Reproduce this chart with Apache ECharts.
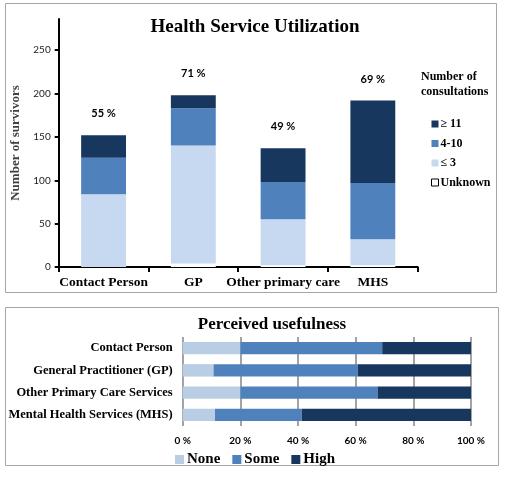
<!DOCTYPE html>
<html>
<head>
<meta charset="utf-8">
<script src="https://cdn.jsdelivr.net/npm/echarts@6/dist/echarts.min.js"></script>
<style>
html,body{margin:0;padding:0;background:#fff;}
#c{width:527px;height:478px;}
</style>
</head>
<body>
<div id="c"></div>
<script>
// ---- Top chart: Health Service Utilization ----
const services = ['Contact Person', 'GP', 'Other primary care', 'MHS'];
const unknownCounts = [0, 4, 2, 2];
const low3 = [84, 136, 53, 30];        // ≤ 3
const mid4to10 = [42, 43, 43, 65];     // 4-10
const high11 = [26, 15, 39, 95];       // ≥ 11
const pctLabels = ['55 %', '71 %', '49 %', '69 %'];
const yTicks = [0, 50, 100, 150, 200, 250];

// ---- Bottom chart: Perceived usefulness ----
const usefulCats = ['Contact Person', 'General Practitioner (GP)', 'Other Primary Care Services', 'Mental Health Services (MHS)'];
const usefulNone = [20, 10.7, 20, 11.2];
const usefulSome = [49.2, 50, 47.6, 30.1];
const usefulHigh = [30.8, 39.3, 32.4, 58.7];
const pctTicks = [0, 20, 40, 60, 80, 100];

const serif = '"Liberation Serif", "Times New Roman", serif';
const sans = 'Lato, "Open Sans", sans-serif';
const cLight = '#c6d9f1', cMid = '#4f81bd', cDark = '#17375e', cNone = '#b9cde5';

const chart = echarts.init(document.getElementById('c'), null, {renderer: 'canvas'});
chart.setOption({
  animation: false,
  backgroundColor: '#fff',
  graphic: [
    {type: 'rect', shape: {x: 5.5, y: 3.5, width: 491, height: 289}, style: {fill: 'none', stroke: '#a6a6a6', lineWidth: 1}},
    {type: 'rect', shape: {x: 5.5, y: 307.5, width: 493, height: 158}, style: {fill: 'none', stroke: '#a6a6a6', lineWidth: 1}}
  ],
  title: [
    {text: 'Health Service Utilization', left: 250, top: 13, textAlign: 'center',
     textStyle: {fontFamily: serif, fontWeight: 'bold', fontSize: 19, color: '#000'}},
    {text: 'Number of\nconsultations', left: 416, top: 64,
     textStyle: {fontFamily: serif, fontWeight: 'bold', fontSize: 12, color: '#000', lineHeight: 15}},
    {text: 'Perceived usefulness', left: 267, top: 311, textAlign: 'center',
     textStyle: {fontFamily: serif, fontWeight: 'bold', fontSize: 17, color: '#000'}}
  ],
  legend: [
    {orient: 'vertical', left: 426, top: 112, itemWidth: 7, itemHeight: 7, itemGap: 5.5, icon: 'rect',
     textStyle: {fontFamily: serif, fontWeight: 'bold', fontSize: 12, color: '#000', lineHeight: 14, padding: [0,0,0,-3]},
     data: [
       {name: '≥ 11'}, {name: '4-10'}, {name: '≤ 3'},
       {name: 'Unknown', itemStyle: {color: '#fff', borderColor: '#000', borderWidth: 1}}
     ]},
    {orient: 'horizontal', left: 170, top: 447, itemWidth: 9, itemHeight: 9, itemGap: 12, icon: 'rect',
     textStyle: {fontFamily: serif, fontWeight: 'bold', fontSize: 15, color: '#000', padding: [0,0,0,-2]},
     data: ['None', 'Some', 'High']}
  ],
  grid: [
    {left: 58.7, right: 109.3, top: 19, bottom: 211},
    {left: 182.7, right: 56, top: 337, bottom: 52}
  ],
  xAxis: [
    {type: 'category', gridIndex: 0, data: services,
     axisLine: {lineStyle: {color: '#000', width: 2}},
     axisTick: {show: true, length: 5, lineStyle: {color: '#000', width: 2}},
     axisLabel: {fontFamily: serif, fontWeight: 'bold', fontSize: 13.5, color: '#000', margin: 9, interval: 0}},
    {type: 'value', gridIndex: 1, min: 0, max: 100, interval: 20,
     axisLine: {show: false}, axisTick: {show: false},
     splitLine: {lineStyle: {color: '#868686', width: 1.5}},
     axisLabel: {fontFamily: sans, fontWeight: 'bold', fontSize: 10, color: '#000', margin: 10,
                 customValues: pctTicks, formatter: v => v + ' %'}}
  ],
  yAxis: [
    {type: 'value', gridIndex: 0, min: 0, max: 286, interval: 50,
     name: 'Number of survivors', nameLocation: 'middle', nameGap: 37,
     nameTextStyle: {fontFamily: serif, fontWeight: 'bold', fontSize: 13, color: '#404040'},
     axisLine: {show: true, lineStyle: {color: '#000', width: 2}},
     axisTick: {show: true, length: 4, lineStyle: {color: '#000', width: 2}, customValues: yTicks},
     axisLabel: {fontFamily: sans, fontSize: 10, color: '#222', margin: 8, customValues: yTicks},
     splitLine: {show: false}},
    {type: 'category', gridIndex: 1, data: usefulCats, inverse: true,
     axisLine: {show: false}, axisTick: {show: false},
     axisLabel: {fontFamily: serif, fontWeight: 'bold', fontSize: 12.5, color: '#000', margin: 10}}
  ],
  series: [
    {name: 'Unknown', type: 'bar', stack: 'u', xAxisIndex: 0, yAxisIndex: 0, barWidth: '50%',
     data: unknownCounts, itemStyle: {color: '#fff'}},
    {name: '≤ 3', type: 'bar', stack: 'u', xAxisIndex: 0, yAxisIndex: 0, barWidth: '50%',
     data: low3, itemStyle: {color: cLight}},
    {name: '4-10', type: 'bar', stack: 'u', xAxisIndex: 0, yAxisIndex: 0, barWidth: '50%',
     data: mid4to10, itemStyle: {color: cMid}},
    {name: '≥ 11', type: 'bar', stack: 'u', xAxisIndex: 0, yAxisIndex: 0, barWidth: '50%',
     data: high11, itemStyle: {color: cDark},
     label: {show: true, position: 'top', distance: 16,
             fontFamily: sans, fontWeight: 'bold', fontSize: 11, color: '#000',
             formatter: p => pctLabels[p.dataIndex]}},
    {name: 'None', type: 'bar', stack: 'p', xAxisIndex: 1, yAxisIndex: 1, barWidth: '56%',
     data: usefulNone, itemStyle: {color: cNone}},
    {name: 'Some', type: 'bar', stack: 'p', xAxisIndex: 1, yAxisIndex: 1, barWidth: '56%',
     data: usefulSome, itemStyle: {color: cMid}},
    {name: 'High', type: 'bar', stack: 'p', xAxisIndex: 1, yAxisIndex: 1, barWidth: '56%',
     data: usefulHigh, itemStyle: {color: cDark}}
  ]
});
</script>
</body>
</html>
